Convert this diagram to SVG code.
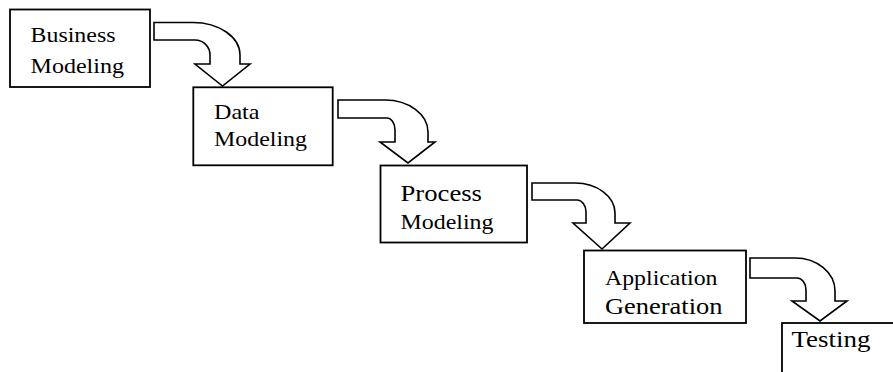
<svg xmlns="http://www.w3.org/2000/svg" width="893" height="372" viewBox="0 0 893 372">
<style>
.box{fill:#fff;stroke:#000;stroke-width:1.8}
.arr{fill:#fff;stroke:#000;stroke-width:1.6;stroke-linejoin:miter}
.t{font-family:'Liberation Serif',serif;font-size:22px;fill:#000}
.big{font-size:24px}
</style>
<rect width="893" height="372" fill="#fff"/>
<g id="connectors">
<path class="arr" d="M154,22.5 L193,22.5 A47,32.5 0 0 1 240,55 L240,64 L250,64 L222.5,86 L195,64 L210,64 L210,55 A15,15 0 0 0 195,40 L154,40 Z"/>
<path class="arr" d="M338,100 L385,100 A43,32 0 0 1 428,132 L428,142 L435,142 L408,163 L380,142 L395,142 L395,130 A8,12 0 0 0 387,118 L338,118 Z"/>
<path class="arr" d="M532,183 L575,183 A40,30 0 0 1 615,213 L615,223 L630,223 L602,249 L573,223 L586,223 L586,212 A9,12 0 0 0 577,200 L532,200 Z"/>
<path class="arr" d="M750,258 L795,258 A40,33 0 0 1 835,291 L835,301 L847,301 L820,321 L792,301 L806,301 L806,290 A9,12 0 0 0 797,278 L750,278 Z"/>
</g>
<g id="business-modeling">
<rect class="box" x="10" y="9.5" width="140" height="77.5"/>
<text class="t" x="30.5" y="41.7" textLength="85" lengthAdjust="spacingAndGlyphs">Business</text>
<text class="t" x="30.5" y="72.7" textLength="93.5" lengthAdjust="spacingAndGlyphs">Modeling</text>
</g>
<g id="data-modeling">
<rect class="box" x="193.3" y="87.3" width="139.4" height="78"/>
<text class="t" x="214" y="119.3" textLength="45.5" lengthAdjust="spacingAndGlyphs">Data</text>
<text class="t" x="214" y="146" textLength="93" lengthAdjust="spacingAndGlyphs">Modeling</text>
</g>
<g id="process-modeling">
<rect class="box" x="380.5" y="165.5" width="146.5" height="77"/>
<text class="t big" x="400.5" y="201" textLength="81.5" lengthAdjust="spacingAndGlyphs">Process</text>
<text class="t" x="400.5" y="228.5" textLength="93" lengthAdjust="spacingAndGlyphs">Modeling</text>
</g>
<g id="application-generation">
<rect class="box" x="584" y="250.5" width="162" height="72.5"/>
<text class="t" x="605" y="284.5" textLength="112.5" lengthAdjust="spacingAndGlyphs">Application</text>
<text class="t big" x="605" y="313.5" textLength="117.5" lengthAdjust="spacingAndGlyphs">Generation</text>
</g>
<g id="testing">
<rect class="box" x="782" y="323" width="130" height="70"/>
<text class="t big" x="791.5" y="346.7" textLength="79" lengthAdjust="spacingAndGlyphs">Testing</text>
</g>
</svg>
